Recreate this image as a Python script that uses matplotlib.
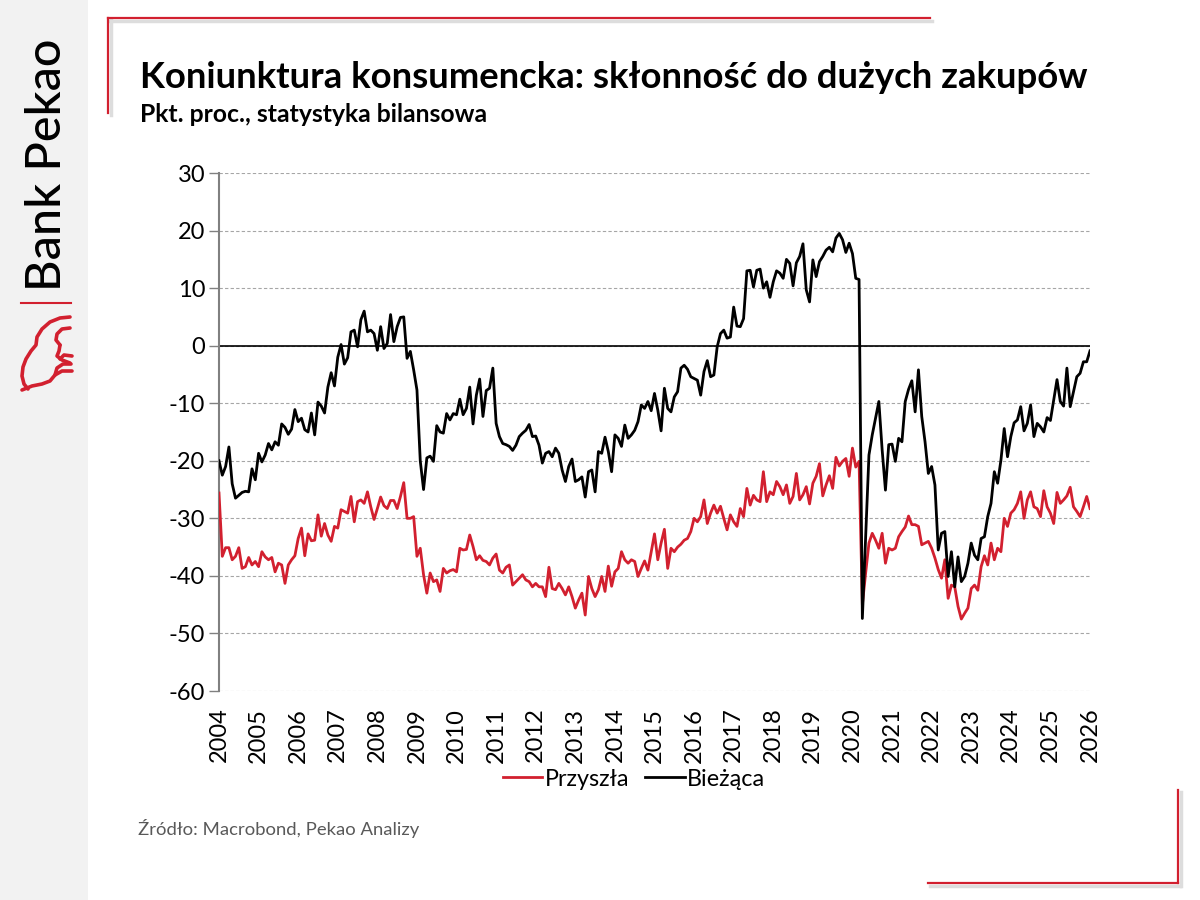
import numpy as np
import matplotlib
matplotlib.use("Agg")
import matplotlib.pyplot as plt

plt.rcParams["font.family"] = ["Lato", "DejaVu Sans"]
plt.rcParams["axes.unicode_minus"] = False

# monthly readings, Jan 2004 .. Jan 2026
biezaca = [
    -20, -22.5, -21, -17.6, -24, -26.5, -26, -25.5, -25.3, -25.4, -21.4, -23.3,
    -18.7, -20.2, -19, -17, -18.1, -16.7, -17.3, -13.6, -14.2, -15.4, -14.5, -11.1,
    -13.2, -12.6, -14.6, -15, -11.7, -15.5, -9.8, -10.5, -11.7, -7.2, -4.7, -7,
    -2, 0.2, -3.2, -2.1, 2.4, 2.7, -0.2, 4.5, 6, 2.4, 2.7, 2.1,
    -0.8, 3.3, -0.5, 0.4, 5.4, 0.7, 3.3, 4.9, 5.0, -2.2, -1.0, -4.2,
    -7.7, -20, -25, -19.5, -19.2, -20.1, -13.9, -15, -15.2, -11.8, -12.9, -11.8,
    -12.0, -9.3, -12.0, -10.9, -7.2, -13.6, -8.6, -5.8, -12.3, -7.8, -7.4, -3.9,
    -13.5, -15.8, -17, -17.2, -17.5, -18.2, -17.3, -15.8, -15.2, -14.7, -13.7, -15.8,
    -15.7, -17.3, -20.4, -18.7, -18.4, -19.3, -17.8, -18.7, -21.6, -23.6, -21, -19.7,
    -23.6, -23.3, -22.8, -26.3, -21.9, -21.6, -25.4, -18.4, -18.7, -15.9, -18.4, -21.9,
    -15.5, -16.1, -17.5, -13.8, -16.1, -15.5, -14.7, -13.2, -10.3, -10.9, -9.7, -11.3,
    -8.3, -11.2, -14.8, -7.4, -10.9, -11.5, -8.9, -8.0, -3.9, -3.4, -4.1, -5.4,
    -5.7, -6.0, -8.6, -4.5, -2.6, -5.4, -5.1, -0.2, 2.1, 2.7, 1.3, 1.5,
    6.7, 3.4, 3.3, 4.7, 13.0, 13.1, 10.2, 13.1, 13.3, 10.0, 11.1, 8.4,
    11.1, 13.0, 12.6, 11.7, 15.0, 14.3, 10.4, 14.4, 15.5, 17.7, 9.7, 7.6,
    14.9, 12.0, 14.6, 15.5, 16.6, 17.1, 16.3, 18.7, 19.5, 18.4, 16.2, 17.8,
    16.0, 11.7, 11.5, -47.4, -33, -19, -15.5, -12.6, -9.7, -18.1, -25.1, -17.2,
    -17.1, -20.1, -16.1, -16.7, -9.7, -7.6, -6.1, -11.5, -4.2, -12.3, -16.7, -22.2,
    -21, -24.2, -35.5, -32.6, -32.3, -40.1, -35.8, -41.9, -36.7, -41.0, -40.1, -37.8,
    -34.3, -36.4, -37.2, -33.5, -33.2, -29.7, -27.4, -21.9, -23.9, -19.9, -14.4, -19.3,
    -15.8, -13.4, -12.9, -10.6, -14.8, -13.5, -10.3, -15.8, -13.5, -14.1, -15.0, -12.5,
    -13.0, -9.4, -5.9, -9.7, -10.5, -3.9, -10.6, -8.0, -5.4, -4.8, -2.8, -2.8,
    -0.9,
]

przyszla = [
    -25.6, -36.6, -35.1, -35.1, -37.2, -36.6, -35.1, -38.7, -38.4, -36.8, -38.1, -37.5,
    -38.4, -35.8, -36.7, -37.2, -36.8, -39.3, -37.8, -38.1, -41.3, -38.1, -37.2, -36.5,
    -33.5, -31.7, -36.5, -32.7, -33.9, -33.8, -29.4, -33.1, -30.9, -32.9, -34.0, -31.4,
    -31.7, -28.5, -28.8, -29.1, -26.2, -30.6, -27.1, -26.8, -27.4, -25.4, -28.0, -30.2,
    -28.3, -26.3, -27.8, -28.3, -26.9, -26.9, -28.3, -26.2, -23.8, -30.0, -30.0, -29.7,
    -36.6, -35.2, -39.8, -43.0, -39.5, -41.0, -40.7, -42.7, -38.7, -39.5, -39.1, -38.9,
    -39.3, -35.2, -35.5, -35.4, -32.9, -34.9, -37.2, -36.5, -37.3, -37.5, -38.1, -36.9,
    -36.2, -39.0, -39.5, -38.5, -38.1, -41.6, -41.0, -40.4, -39.8, -40.7, -41.0, -41.9,
    -41.3, -41.9, -41.9, -43.6, -38.5, -42.2, -42.4, -41.3, -42.2, -43.3, -41.9, -43.6,
    -45.6, -44.2, -43.0, -46.8, -40.1, -42.2, -43.6, -42.4, -40.1, -42.7, -38.3, -41.8,
    -39.3, -38.7, -35.8, -37.2, -37.8, -37.2, -37.5, -40.1, -38.7, -37.4, -39.0, -35.8,
    -32.7, -37.2, -34.3, -31.9, -38.7, -35.2, -35.8, -35.0, -34.5, -33.8, -33.5, -32.3,
    -30.0, -30.6, -29.7, -26.8, -30.9, -29.1, -27.7, -29.1, -27.9, -30.0, -32.0, -29.4,
    -30.6, -31.4, -28.3, -29.7, -24.8, -27.7, -26.0, -26.8, -27.1, -21.9, -27.1, -25.4,
    -25.9, -23.6, -24.5, -25.9, -24.2, -27.4, -26.2, -22.2, -26.8, -25.9, -24.5, -27.5,
    -23.9, -22.7, -20.5, -26.1, -24.2, -22.6, -24.8, -19.4, -20.9, -20.1, -19.6, -22.7,
    -17.8, -21.1, -20.1, -45, -39.5, -34.3, -32.6, -33.8, -35.2, -32.6, -37.8, -35.2,
    -35.5, -35.2, -33.2, -32.3, -31.5, -29.6, -31.1, -31.1, -31.4, -34.6, -34.3, -34.0,
    -35.2, -36.9, -38.9, -40.4, -37.2, -43.9, -41.6, -41.9, -45.3, -47.5, -46.5, -45.6,
    -42.2, -41.6, -42.5, -38.4, -36.5, -38.1, -34.3, -37.2, -35.2, -35.8, -30.0, -31.4,
    -29.1, -28.5, -27.4, -25.4, -30.0, -26.8, -25.4, -28.0, -28.3, -29.7, -25.2, -28.0,
    -29.1, -30.9, -25.5, -27.4, -26.8, -26.1, -24.6, -28.0, -28.8, -29.7, -28.0, -26.2,
    -28.3,
]

years = list(range(2004, 2027))
yticks = list(range(-60, 31, 10))

czerwony = '#d2202f'

t = 2004 + np.arange(len(biezaca)) / 12.0

fig = plt.figure(figsize=(12, 9), dpi=100)

# background / frame in pixel coords
bg = fig.add_axes([0, 0, 1, 1], zorder=0)
bg.set_xlim(0, 1200)
bg.set_ylim(900, 0)
bg.axis('off')
bg.fill_between([0, 88], 0, 900, color='#f2f2f2', lw=0)
# shadows
bg.plot([110, 932], [20.5, 20.5], color='#dddddd', lw=2.5)
bg.plot([110.5, 110.5], [20, 115], color='#dddddd', lw=2.5)
bg.plot([930, 1180], [885.5, 885.5], color='#dddddd', lw=2.5)
bg.plot([1180.5, 1180.5], [792, 886], color='#dddddd', lw=2.5)
# red frame
bg.plot([108, 930], [18, 18], color=czerwony, lw=1.6)
bg.plot([108, 108], [18, 113], color=czerwony, lw=1.6)
bg.plot([928, 1178], [883, 883], color=czerwony, lw=1.6)
bg.plot([1178, 1178], [790, 883], color=czerwony, lw=1.6)

# logo
bg.plot([21, 71], [303, 303], color=czerwony, lw=1.5)
logo = [
    [(70, 317), (60, 318), (50, 322), (42, 329), (37, 337), (36, 345),
     (31, 351), (26, 359), (23, 367), (22, 376), (24, 384), (28, 389)],
    [(22, 390), (32, 386), (42, 384), (50, 381), (55, 375), (62, 371), (72, 371)],
    [(70, 328), (62, 329), (57, 334), (56, 340), (60, 345)],
    [(60, 345), (59, 351), (57, 356), (62, 360), (70, 363)],
    [(72, 356), (64, 355), (60, 359)],
    [(55, 375), (57, 368), (63, 364), (71, 364)],
]
for seg in logo:
    xs, ys = zip(*seg)
    bg.plot(xs, ys, color=czerwony, lw=2.6, solid_capstyle='round')

fig.text(47 / 1200, 1 - 165 / 900, 'Bank Pekao', rotation=90, fontsize=35,
         ha='center', va='center', color='black', fontweight='medium')

fig.text(140 / 1200, 1 - 88 / 900,
         'Koniunktura konsumencka: skłonność do dużych zakupów',
         fontsize=26.3, fontweight='bold', va='baseline', ha='left')
fig.text(140 / 1200, 1 - 122 / 900, 'Pkt. proc., statystyka bilansowa',
         fontsize=17.8, fontweight='bold', va='baseline', ha='left')
fig.text(138 / 1200, 1 - 835 / 900, 'Źródło: Macrobond, Pekao Analizy',
         fontsize=13.3, color='#595959', va='baseline', ha='left')

ax = fig.add_axes([219 / 1200, 1 - 691 / 900, 871 / 1200, 518 / 900], zorder=1)
ax.plot(t, przyszla, color=czerwony, lw=2, label='Przyszła', zorder=3)
ax.plot(t, biezaca, color='black', lw=2, label='Bieżąca', zorder=4)
ax.axhline(0, color='black', lw=1.2, zorder=2)

ax.set_xlim(2004, 2026)
ax.set_ylim(-60, 30)
ax.set_yticks(yticks)
ax.set_xticks(years)
ax.set_xticklabels([str(y) for y in years], rotation=90)
ax.tick_params(axis='x', length=0, labelsize=17, pad=12)
ax.tick_params(axis='y', length=7, width=1, color='#808080', labelsize=17, pad=3)
ax.grid(axis='y', color='#a6a6a6', ls=(0, (3, 2)), lw=0.8)
ax.set_axisbelow(True)
for s in ['top', 'right', 'bottom']:
    ax.spines[s].set_visible(False)
ax.spines['left'].set_color('#808080')
ax.spines['left'].set_linewidth(1.5)

fig.legend(loc='center', bbox_to_anchor=(634 / 1200, 1 - 779 / 900), ncol=2,
           frameon=False, fontsize=16.8, handlelength=1.7, handletextpad=0.1,
           columnspacing=0.7)

fig.savefig('out.png', dpi=100)
